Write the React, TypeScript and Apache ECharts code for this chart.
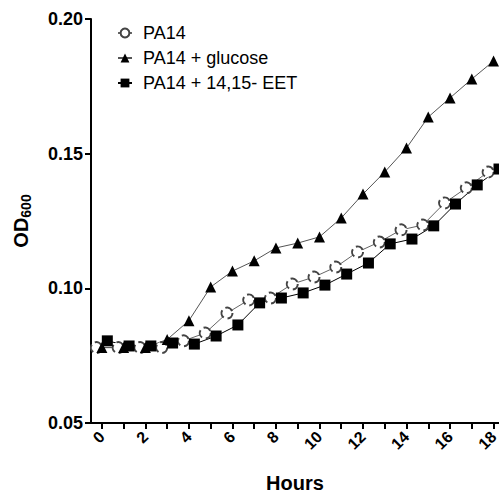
import React, { useEffect, useRef } from "react";
import * as echarts from "echarts";

const pa14Hours = [-0.25, 0.75, 1.75, 2.75, 3.75, 4.75, 5.75, 6.75, 7.75, 8.75, 9.75, 10.75, 11.75, 12.75, 13.75, 14.75, 15.75, 16.75, 17.75];
const pa14Values = [0.078, 0.078, 0.078, 0.078, 0.0805, 0.0834, 0.0908, 0.0957, 0.0964, 0.1016, 0.1042, 0.1079, 0.1135, 0.1172, 0.1217, 0.1235, 0.1317, 0.1373, 0.1432];

const glucoseHours = [0, 1, 2, 3, 4, 5, 6, 7, 8, 9, 10, 11, 12, 13, 14, 15, 16, 17, 18];
const glucoseValues = [0.078, 0.078, 0.078, 0.081, 0.088, 0.1005, 0.1064, 0.1102, 0.115, 0.1168, 0.1191, 0.1261, 0.135, 0.1432, 0.1521, 0.1636, 0.1707, 0.1777, 0.1844];

const eetHours = [0.25, 1.25, 2.25, 3.25, 4.25, 5.25, 6.25, 7.25, 8.25, 9.25, 10.25, 11.25, 12.25, 13.25, 14.25, 15.25, 16.25, 17.25, 18.25];
const eetValues = [0.0805, 0.0786, 0.0786, 0.0797, 0.0793, 0.0823, 0.0864, 0.0946, 0.0964, 0.0983, 0.1012, 0.1053, 0.1094, 0.1165, 0.1183, 0.1232, 0.1313, 0.1384, 0.1443];

const xTickValues = [0, 1, 2, 3, 4, 5, 6, 7, 8, 9, 10, 11, 12, 13, 14, 15, 16, 17, 18];
const xLabelValues = [0, 2, 4, 6, 8, 10, 12, 14, 16, 18];

const seriesNames = ["PA14", "PA14 + glucose", "PA14 + 14,15- EET"];

const FONT = "Liberation Sans, Arial, sans-serif";

function zip(xs: number[], ys: number[]) {
  return xs.map((x, i) => [x, ys[i]]);
}

export default function App() {
  const ref = useRef<HTMLDivElement>(null);
  useEffect(() => {
    if (!ref.current) return;
    const chart = echarts.init(ref.current, null, { renderer: "svg" });
    chart.setOption({
      animation: false,
      backgroundColor: "#ffffff",
      textStyle: { fontFamily: FONT },
      grid: { left: 91, top: 19, right: 0, bottom: 72, containLabel: false, outerBoundsMode: "none" },
      legend: {
        orient: "vertical",
        left: 112,
        top: 19,
        itemWidth: 14,
        itemHeight: 11,
        itemGap: 7,
        data: seriesNames,
        textStyle: { fontFamily: FONT, fontSize: 18, color: "#000", padding: [0, 0, 0, 6] },
      },
      xAxis: {
        type: "value",
        min: -0.5,
        max: 18.25,
        name: "Hours",
        nameLocation: "middle",
        nameGap: 50,
        nameTextStyle: { fontFamily: FONT, fontSize: 20, fontWeight: "bold", color: "#000" },
        axisLine: { show: true, onZero: false, lineStyle: { color: "#000", width: 2 } },
        axisTick: { show: true, length: 6, customValues: xTickValues, lineStyle: { color: "#000", width: 2 } },
        axisLabel: {
          customValues: xLabelValues,
          rotate: 45,
          margin: 11,
          fontFamily: FONT,
          fontSize: 16,
          fontWeight: "bold",
          color: "#000",
        },
        splitLine: { show: false },
      },
      yAxis: {
        type: "value",
        min: 0.05,
        max: 0.2,
        interval: 0.05,
        name: "{a|OD}{b|600}",
        nameLocation: "middle",
        nameGap: 58,
        nameTextStyle: {
          fontFamily: FONT,
          color: "#000",
          rich: {
            a: { fontFamily: FONT, fontSize: 20, fontWeight: "bold", color: "#000" },
            b: { fontFamily: FONT, fontSize: 14, fontWeight: "bold", color: "#000", padding: [10, 0, 0, 0] },
          },
        },
        axisLine: { show: true, onZero: false, lineStyle: { color: "#000", width: 2 } },
        axisTick: { show: true, length: 6, lineStyle: { color: "#000", width: 2 } },
        axisLabel: {
          margin: 8,
          fontFamily: FONT,
          fontSize: 18,
          fontWeight: "bold",
          color: "#000",
          formatter: (v: number) => v.toFixed(2),
        },
        splitLine: { show: false },
      },
      series: [
        {
          name: seriesNames[0],
          type: "line",
          data: zip(pa14Hours, pa14Values),
          symbol: "emptyCircle",
          symbolSize: 11,
          clip: false,
          lineStyle: { color: "#666", width: 1 },
          itemStyle: { color: "#444", borderColor: "#444", borderWidth: 1, borderType: "dashed" },
        },
        {
          name: seriesNames[1],
          type: "line",
          data: zip(glucoseHours, glucoseValues),
          symbol: "triangle",
          symbolSize: 11,
          clip: false,
          lineStyle: { color: "#555", width: 1 },
          itemStyle: { color: "#000" },
        },
        {
          name: seriesNames[2],
          type: "line",
          data: zip(eetHours, eetValues),
          symbol: "rect",
          symbolSize: 11,
          clip: false,
          lineStyle: { color: "#000", width: 1 },
          itemStyle: { color: "#000" },
        },
      ],
    });
    return () => chart.dispose();
  }, []);
  return (
    <div
      ref={ref}
      style={{ position: "fixed", left: 0, top: 0, width: 499, height: 495, background: "#fff" }}
    />
  );
}
